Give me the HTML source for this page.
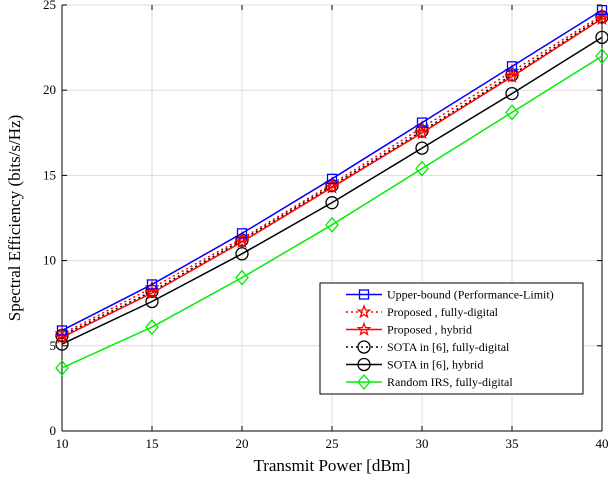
<!DOCTYPE html>
<html><head><meta charset="utf-8"><style>
body{margin:0;background:#fff;}
svg{display:block;font-family:"Liberation Serif",serif;}
</style></head><body>
<svg id="chart" width="608" height="480"></svg>
<script>
const xTicks=[10,15,20,25,30,35,40];
const yTicks=[0,5,10,15,20,25];
const upperBound=[5.9,8.6,11.6,14.8,18.1,21.4,24.7];
const proposedFD=[5.7,8.4,11.3,14.5,17.8,21.1,24.4];
const proposedHybrid=[5.5,8.1,11.1,14.3,17.5,20.8,24.2];
const sotaFD=[5.6,8.2,11.2,14.4,17.6,20.9,24.3];
const sotaHybrid=[5.1,7.6,10.4,13.4,16.6,19.8,23.1];
const randomIRS=[3.7,6.1,9.0,12.1,15.4,18.7,22.0];
const seriesNames=["Upper-bound (Performance-Limit)","Proposed , fully-digital","Proposed , hybrid","SOTA in [6], fully-digital","SOTA in [6], hybrid","Random IRS, fully-digital"];

const NS="http://www.w3.org/2000/svg";
const svg=document.getElementById('chart');
const L=62,R=602,T=5,B=431;
const X=v=>L+(v-10)/30*(R-L);
const Y=v=>B-v/25*(B-T);
function el(t,a,p){const e=document.createElementNS(NS,t);for(const k in a)e.setAttribute(k,a[k]);(p||svg).appendChild(e);return e;}

const grid=el('g',{});


xTicks.forEach(v=>{el('line',{x1:X(v),x2:X(v),y1:T,y2:B,stroke:'#dcdcdc','stroke-width':1},grid);});
yTicks.forEach(v=>{el('line',{x1:L,x2:R,y1:Y(v),y2:Y(v),stroke:'#dcdcdc','stroke-width':1},grid);});

const axes=el('g',{stroke:'#000','stroke-width':1,fill:'none'});


el('line',{x1:L,x2:L,y1:T,y2:B},axes);
el('line',{x1:L,x2:R,y1:B,y2:B},axes);
el('line',{x1:R,x2:R,y1:T,y2:B},axes);
xTicks.forEach(v=>{el('line',{x1:X(v),x2:X(v),y1:B,y2:B-5},axes);el('line',{x1:X(v),x2:X(v),y1:T,y2:T+5},axes);});
yTicks.forEach(v=>{el('line',{x1:L,x2:L+5,y1:Y(v),y2:Y(v)},axes);el('line',{x1:R,x2:R-5,y1:Y(v),y2:Y(v)},axes);});

xTicks.forEach(v=>{const t=el('text',{x:X(v),y:B+17,'text-anchor':'middle','font-size':13});t.textContent=v;
});
yTicks.forEach(v=>{const t=el('text',{x:L-6,y:Y(v)+4,'text-anchor':'end','font-size':13});t.textContent=v;
});
const xt=el('text',{x:332,y:471,'text-anchor':'middle','font-size':17});xt.textContent='Transmit Power [dBm]';

const yt=el('text',{x:0,y:0,'text-anchor':'middle','font-size':17,transform:'translate(20,218) rotate(-90)'});yt.textContent='Spectral Efficiency (bits/s/Hz)';


function marker(g,type,x,y,c){
 if(type==='sq')el('rect',{x:x-4.5,y:y-4.5,width:9,height:9,fill:'none',stroke:c,'stroke-width':1.3},g);
 else if(type==='circ')el('circle',{cx:x,cy:y,r:6,fill:'none',stroke:c,'stroke-width':1.3},g);
 else if(type==='dia')el('polygon',{points:`${x},${y-7} ${x+6},${y} ${x},${y+7} ${x-6},${y}`,fill:'none',stroke:c,'stroke-width':1.3},g);
 else if(type==='star'){let p=[];for(let i=0;i<10;i++){const r=i%2?2.5:6,a=-Math.PI/2+i*Math.PI/5;p.push((x+r*Math.cos(a)).toFixed(1)+','+(y+r*Math.sin(a)).toFixed(1));}
  el('polygon',{points:p.join(' '),fill:'none',stroke:c,'stroke-width':1.3},g);}
}
const styles=[
 {d:randomIRS,c:'#00ee00',dash:null,m:'dia',n:'series-random-irs'},
 {d:sotaHybrid,c:'#000',dash:null,m:'circ',n:'series-sota-hybrid'},
 {d:sotaFD,c:'#000',dash:'2,3',m:'circ',n:'series-sota-fully-digital'},
 {d:proposedHybrid,c:'#ff0000',dash:null,m:'star',n:'series-proposed-hybrid'},
 {d:proposedFD,c:'#ff0000',dash:'2,3',m:'star',n:'series-proposed-fully-digital'},
 {d:upperBound,c:'#0000ff',dash:null,m:'sq',n:'series-upper-bound'}];
styles.forEach(s=>{
 const g=el('g',{});
 
 
 const a={points:s.d.map((v,i)=>X(xTicks[i])+','+Y(v)).join(' '),fill:'none',stroke:s.c,'stroke-width':1.5};
 if(s.dash)a['stroke-dasharray']=s.dash;
 el('polyline',a,g);
 s.d.forEach((v,i)=>marker(g,s.m,X(xTicks[i]),Y(v),s.c));
});

// legend
const lg=el('g',{});


el('rect',{x:320,y:283,width:263,height:111,fill:'#fff',stroke:'#000','stroke-width':1},lg);
const legOrder=[
 {c:'#0000ff',dash:null,m:'sq'},{c:'#ff0000',dash:'2,3',m:'star'},{c:'#ff0000',dash:null,m:'star'},
 {c:'#000',dash:'2,3',m:'circ'},{c:'#000',dash:null,m:'circ'},{c:'#00ee00',dash:null,m:'dia'}];
legOrder.forEach((s,i)=>{
 const y=294.5+i*17.5;
 const e=el('g',{},lg);
 
 
 const a={x1:346,x2:382,y1:y,y2:y,stroke:s.c,'stroke-width':1.5};
 if(s.dash)a['stroke-dasharray']=s.dash;
 el('line',a,e);
 marker(e,s.m,364,y,s.c);
 const t=el('text',{x:387,y:y+4,'font-size':12},e);t.textContent=seriesNames[i];
});
</script>
</body></html>
